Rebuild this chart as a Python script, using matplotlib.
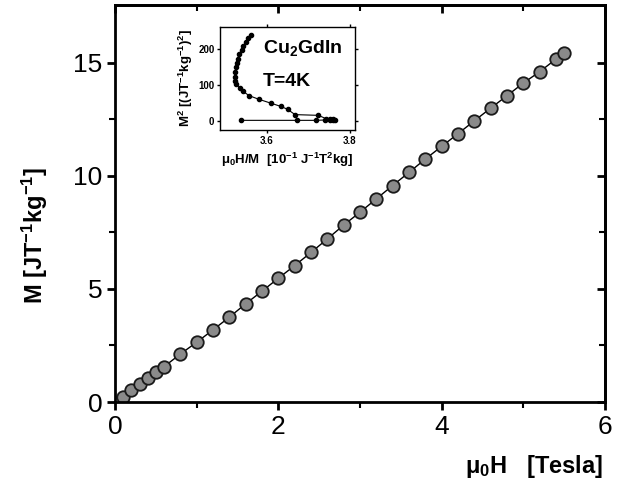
import matplotlib
matplotlib.use('Agg')
import matplotlib.pyplot as plt

plt.rcParams['font.family'] = ['Liberation Sans', 'DejaVu Sans']
plt.rcParams['mathtext.fontset'] = 'custom'
plt.rcParams['mathtext.rm'] = 'Liberation Sans'
plt.rcParams['mathtext.it'] = 'Liberation Sans:italic'
plt.rcParams['mathtext.bf'] = 'Liberation Sans:bold'

# main curve: magnetisation vs field
field = [0.1, 0.2, 0.3, 0.4, 0.5, 0.6, 0.8, 1.0, 1.2, 1.4, 1.6, 1.8, 2.0, 2.2, 2.4, 2.6,
         2.8, 3.0, 3.2, 3.4, 3.6, 3.8, 4.0, 4.2, 4.4, 4.6, 4.8, 5.0, 5.2, 5.4, 5.5]
magn = [0.23, 0.53, 0.78, 1.05, 1.31, 1.56, 2.12, 2.64, 3.19, 3.75, 4.34, 4.90, 5.47, 6.03,
        6.61, 7.21, 7.82, 8.39, 8.98, 9.57, 10.15, 10.74, 11.30, 11.86, 12.43, 12.99,
        13.54, 14.10, 14.60, 15.16, 15.43]

# inset: Arrott plot
h_over_m = [3.538, 3.673, 3.718, 3.740, 3.752, 3.758, 3.764, 3.760, 3.752, 3.742, 3.724,
            3.668, 3.650, 3.634, 3.610, 3.581, 3.558, 3.542, 3.536, 3.526, 3.524, 3.523,
            3.524, 3.526, 3.528, 3.530, 3.534, 3.540, 3.544, 3.550, 3.556, 3.562]
m_sq = [1, 1, 1, 2, 2, 3, 3, 4, 4, 6, 15,
        17, 32, 40, 49, 60, 70, 83, 92, 102, 112, 123,
        136, 149, 161, 173, 186, 198, 209, 220, 231, 240]

W, H = 627, 483
fig = plt.figure(figsize=(W / 100, H / 100), dpi=100)

ax = fig.add_axes([115 / W, 1 - 402 / H, 490 / W, 397 / H])
ax.plot(field, magn, '-', color='black', lw=1.0, marker='o', ms=9,
        mfc='#8a8a8a', mec='#1a1a1a', mew=1.3)
ax.set_xlim(0, 6)
ax.set_ylim(0, 17.55)
ax.set_xticks([0, 2, 4, 6])
ax.set_xticks([1, 3, 5], minor=True)
ax.set_yticks([0, 5, 10, 15])
ax.set_yticks([2.5, 7.5, 12.5], minor=True)
for s in ax.spines.values():
    s.set_linewidth(2.0)
ax.tick_params(which='major', direction='out', length=6, width=2, labelsize=19, pad=3)
ax.tick_params(which='minor', direction='out', length=4, width=1.5)
sec_x = ax.secondary_xaxis('top')
sec_x.set_xticks([0, 2, 4, 6])
sec_x.set_xticks([1, 3, 5], minor=True)
sec_x.tick_params(which='major', direction='in', length=6, width=2, labeltop=False)
sec_x.tick_params(which='minor', direction='in', length=4, width=1.5)
sec_y = ax.secondary_yaxis('right')
sec_y.set_yticks([0, 5, 10, 15])
sec_y.set_yticks([2.5, 7.5, 12.5], minor=True)
sec_y.tick_params(which='major', direction='in', length=6, width=2, labelright=False)
sec_y.tick_params(which='minor', direction='in', length=4, width=1.5)
sec_x.spines['top'].set_linewidth(2.0)
sec_y.spines['right'].set_linewidth(2.0)

fig.text(35 / W, 1 - 235 / H, r'M [JT$^{\mathbf{-1}}$kg$^{\mathbf{-1}}$]', rotation=90,
         ha='center', va='center', fontsize=17, fontweight='bold')
fig.text(603 / W, 1 - 466 / H, r'μ$_{\mathbf{0}}$H   [Tesla]', ha='right', va='center',
         fontsize=17, fontweight='bold')

# inset
ins = fig.add_axes([220 / W, 1 - 130 / H, 135 / W, 103 / H])
ins.plot(h_over_m, m_sq, '-', color='black', lw=0.8, marker='o', ms=3,
         mfc='black', mec='black')
ins.set_xlim(3.488, 3.812)
ins.set_ylim(-26, 262)
ins.set_xticks([3.6, 3.8])
ins.set_xticklabels(['3.6', '3.8'])
ins.set_yticks([0, 100, 200])
for s in ins.spines.values():
    s.set_linewidth(1.0)
ins.tick_params(direction='out', length=2.5, width=1, labelsize=7, pad=1.5)
ins.tick_params(top=True, right=True, which='both')
for lbl in ins.get_xticklabels() + ins.get_yticklabels():
    lbl.set_fontweight('bold')
ins.set_ylabel(r'M$^{\mathbf{2}}$ [(JT$^{\mathbf{-1}}$kg$^{\mathbf{-1}}$)$^{\mathbf{2}}$]',
               fontsize=9.5, fontweight='bold', labelpad=2)
ins.set_xlabel(r'μ$_{\mathbf{0}}$H/M  [10$^{\mathbf{-1}}$ J$^{\mathbf{-1}}$T$^{\mathbf{2}}$kg]',
               fontsize=9.5, fontweight='bold', labelpad=4)
ins.text(0.32, 0.80, r'Cu$_{\mathbf{2}}$GdIn', transform=ins.transAxes, fontsize=14,
         fontweight='bold', va='center', ha='left')
ins.text(0.32, 0.47, 'T=4K', transform=ins.transAxes, fontsize=14,
         fontweight='bold', va='center', ha='left')

fig.savefig('out.png', dpi=100)
